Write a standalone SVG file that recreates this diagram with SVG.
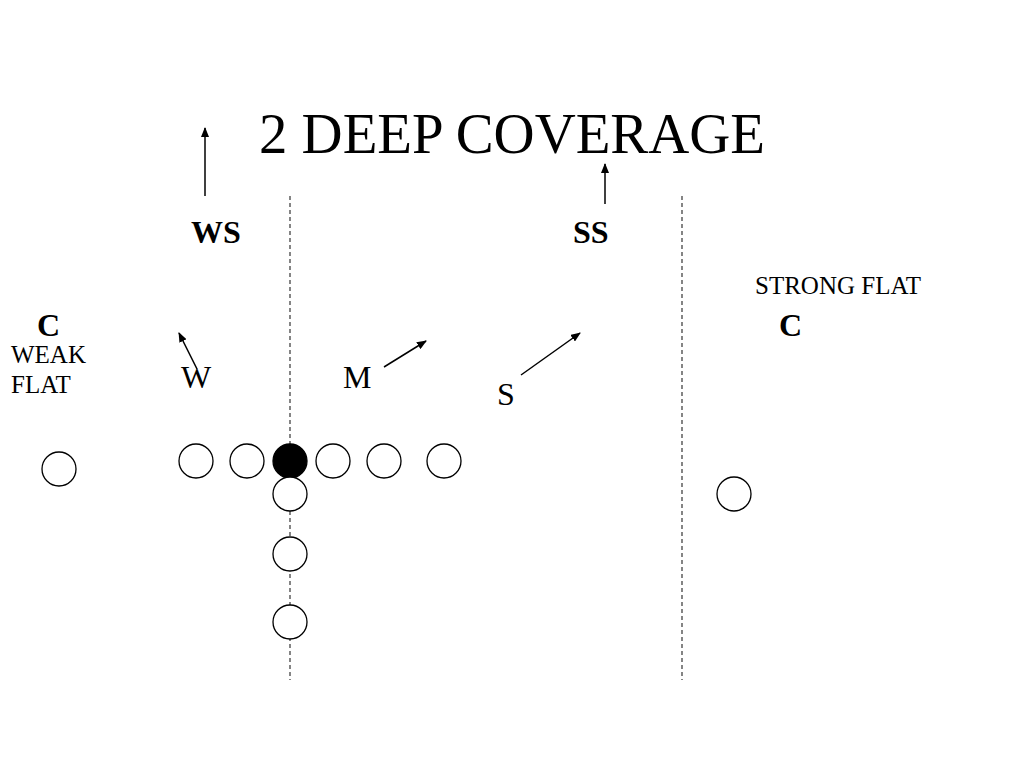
<svg xmlns="http://www.w3.org/2000/svg" width="1024" height="768" viewBox="0 0 1024 768">
<style>
.t{font-family:"Liberation Serif","Times New Roman",serif;fill:#000}
.b{font-weight:bold}
.p{fill:#fff;stroke:#000;stroke-width:1.3}
.f{fill:#000;stroke:#000;stroke-width:1.3}
.d{stroke:#444;stroke-width:1.3;stroke-dasharray:4,3;fill:none}
.a{stroke:#000;stroke-width:1.5;fill:none;marker-end:url(#ah)}
</style>
<defs>
<marker id="ah" markerWidth="10" markerHeight="8" refX="9" refY="4" orient="auto" markerUnits="userSpaceOnUse">
<path d="M0,0 L10,4 L0,8 Z" fill="#000"/>
</marker>
</defs>
<rect width="1024" height="768" fill="#fff"/>
<text class="t" x="259" y="153" font-size="57" textLength="506" lengthAdjust="spacingAndGlyphs">2 DEEP COVERAGE</text>
<g id="lines">
<line class="d" x1="290" y1="196" x2="290" y2="680"/>
<line class="d" x1="682" y1="196" x2="682" y2="680"/>
</g>
<g id="connectors">
<line class="a" x1="205" y1="196" x2="205" y2="128"/>
<line class="a" x1="605" y1="204" x2="605" y2="164"/>
<line class="a" x1="197" y1="369" x2="179" y2="333"/>
<line class="a" x1="384" y1="367" x2="426" y2="341"/>
<line class="a" x1="521" y1="375" x2="580" y2="333"/>
</g>
<g id="ws"><text class="t b" x="191" y="243" font-size="32">WS</text></g>
<g id="ss"><text class="t b" x="573" y="243" font-size="32">SS</text></g>
<g id="c-left"><text class="t b" x="37" y="336" font-size="32">C</text></g>
<g id="weak-flat"><text class="t" x="11" y="363" font-size="25">WEAK</text><text class="t" x="11" y="393" font-size="25">FLAT</text></g>
<g id="w"><text class="t" x="181" y="388" font-size="32">W</text></g>
<g id="m"><text class="t" x="343" y="388" font-size="32">M</text></g>
<g id="s"><text class="t" x="497" y="405" font-size="32">S</text></g>
<g id="strong-flat"><text class="t" x="755" y="294" font-size="25">STRONG FLAT</text></g>
<g id="c-right"><text class="t b" x="779" y="336" font-size="32">C</text></g>
<g id="players">
<circle class="p" cx="59" cy="469" r="17"/>
<circle class="p" cx="196" cy="461" r="17"/>
<circle class="p" cx="247" cy="461" r="17"/>
<circle class="f" cx="290" cy="461" r="17"/>
<circle class="p" cx="333" cy="461" r="17"/>
<circle class="p" cx="384" cy="461" r="17"/>
<circle class="p" cx="444" cy="461" r="17"/>
<circle class="p" cx="290" cy="494" r="17"/>
<circle class="p" cx="290" cy="554" r="17"/>
<circle class="p" cx="290" cy="622" r="17"/>
<circle class="p" cx="734" cy="494" r="17"/>
</g>
</svg>
